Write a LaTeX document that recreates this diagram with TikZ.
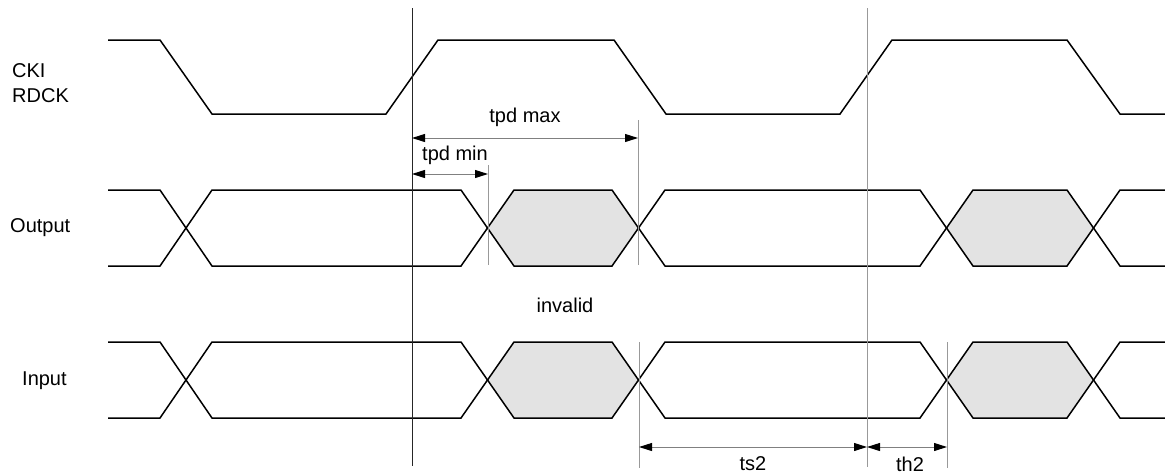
\documentclass[tikz,border=0pt]{standalone}
\usepackage{fontspec}
\setmainfont{Liberation Sans}
\usetikzlibrary{arrows.meta}
\begin{document}
\begin{tikzpicture}[x=1pt,y=-1pt,
  sig/.style={line width=1.5pt,black,line join=miter},
  hexfill/.style={fill=black!11,draw=none},
  refline/.style={line width=0.9pt,black!85},
  markline/.style={line width=1pt,black!40},
  dim/.style={line width=1pt,black!50,{Triangle[length=13pt,width=8pt,black]}-{Triangle[length=13pt,width=8pt,black]}},
  lbl/.style={font=\fontsize{20}{23}\selectfont,inner sep=0pt}]
\useasboundingbox (0,0) rectangle (1165,475);
% clock
\draw[sig] (108,40) -- (160,40) -- (212,114) -- (386,114) -- (438,40) -- (614,40) -- (666,114) -- (840,114) -- (892,40) -- (1067,40) -- (1120,114) -- (1165,114);
% bus rows
\foreach \yt/\yb/\ym in {190/266/228, 342/418/380}{
  \fill[hexfill] (488,\ym) -- (514,\yt) -- (612,\yt) -- (638,\ym) -- (612,\yb) -- (514,\yb) -- cycle;
  \fill[hexfill] (946,\ym) -- (973,\yt) -- (1067,\yt) -- (1093,\ym) -- (1067,\yb) -- (973,\yb) -- cycle;
  \draw[sig] (108,\yt) -- (160,\yt) -- (212,\yb) -- (461,\yb) -- (514,\yt) -- (612,\yt) -- (665,\yb) -- (920,\yb) -- (973,\yt) -- (1067,\yt) -- (1120,\yb) -- (1165,\yb);
  \draw[sig] (108,\yb) -- (160,\yb) -- (212,\yt) -- (461,\yt) -- (514,\yb) -- (612,\yb) -- (665,\yt) -- (920,\yt) -- (973,\yb) -- (1067,\yb) -- (1120,\yt) -- (1165,\yt);
}
% reference lines
\coordinate (r1t) at (412,8);   \coordinate (r1b) at (412,466);
\coordinate (r2t) at (867,8);   \coordinate (r2b) at (867,467);
\draw[refline] (r1t) -- (r1b);
\draw[markline] (r2t) -- (r2b);
% marker lines
\coordinate (mmin) at (488,174); \coordinate (mminb) at (488,265); \coordinate (mmint) at (488,165);
\coordinate (mmax) at (638,138); \coordinate (mmaxb) at (638,265); \coordinate (mmaxt) at (638,120);
\coordinate (ms) at (639,447); \coordinate (mst) at (639,342); \coordinate (msb) at (639,468);
\coordinate (mh) at (947,447); \coordinate (mht) at (947,342); \coordinate (mhb) at (947,468);
\coordinate (amax) at (412,138); \coordinate (amin) at (412,174); \coordinate (ats) at (867,447);
\draw[markline] (mmint) -- (mminb);
\draw[markline] (mmaxt) -- (mmaxb);
\draw[markline] (mst) -- (msb);
\draw[markline] (mht) -- (mhb);
% dimension arrows
\draw[dim] (amax) -- (mmax);
\draw[dim] (amin) -- (mmin);
\draw[dim] (ms) -- (ats);
\draw[dim] (ats) -- (mh);
% labels
\node[lbl,anchor=west] (cki) at (12,71) {CKI};
\node[lbl,anchor=west] (rdck) at (12,96) {RDCK};
\node[lbl,anchor=west] (out) at (10,228) {Output};
\node[lbl,anchor=west] (in) at (22,381) {Input};
\node[lbl] (tmax) at (525,117) {tpd max};
\node[lbl] (tmin) at (455,155) {tpd min};
\node[lbl] (inv) at (565,305) {invalid};
\node[lbl] (ts) at (753,464) {ts2};
\node[lbl] (th) at (910,464) {th2};
\end{tikzpicture}
\end{document}
